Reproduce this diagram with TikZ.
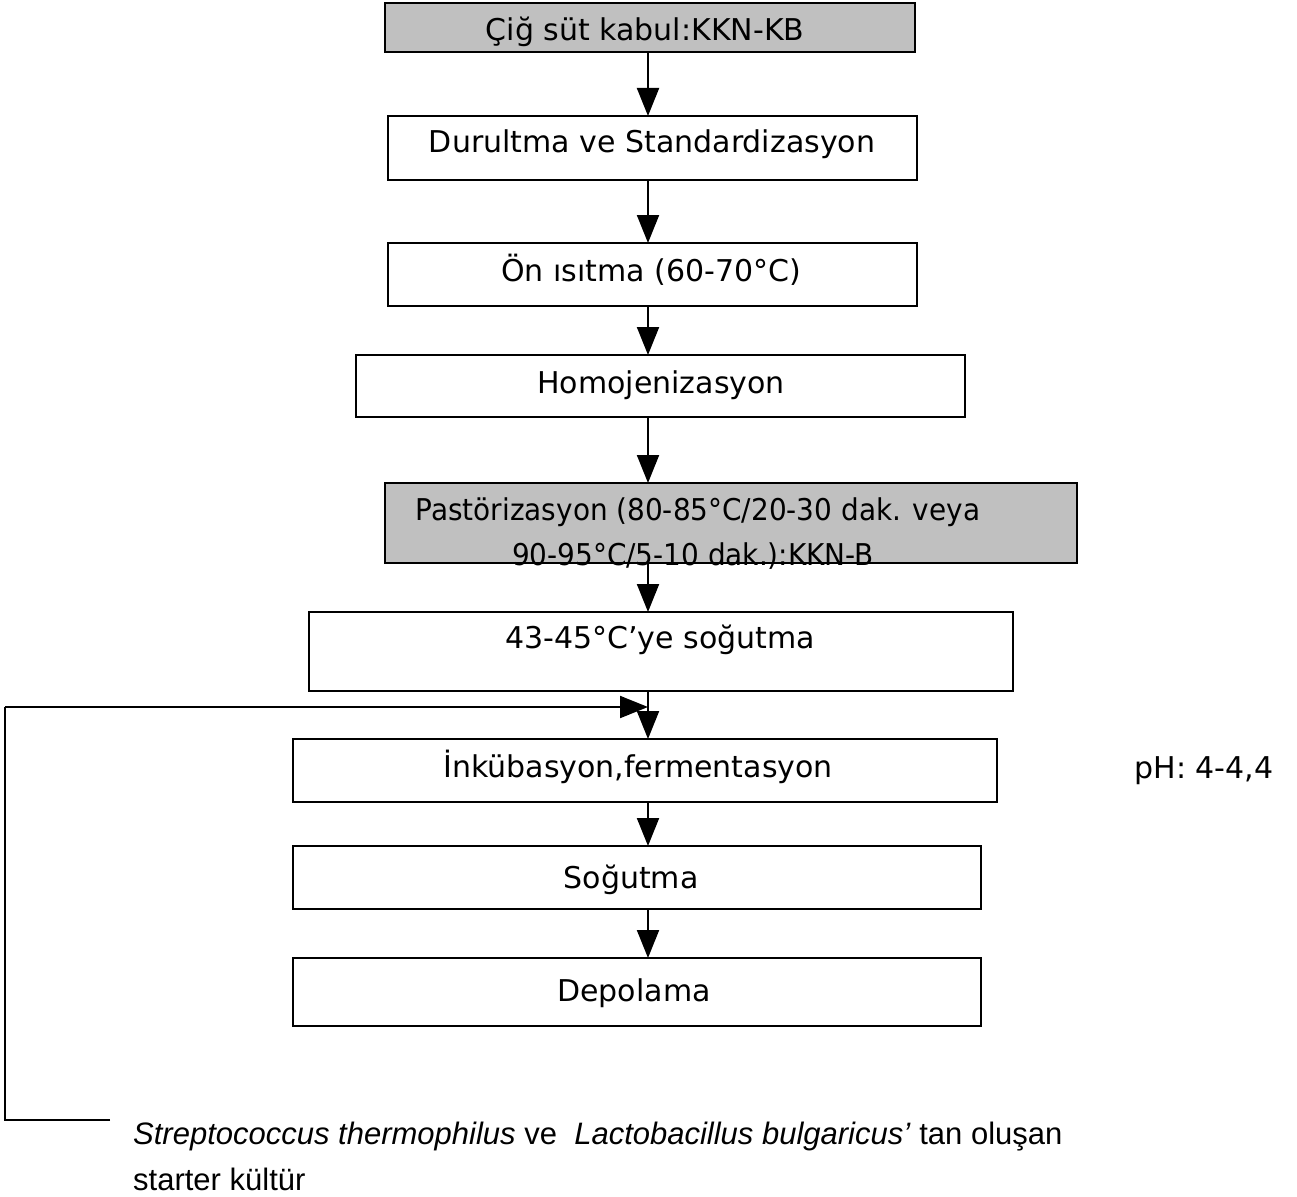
\documentclass[tikz,border=0pt]{standalone}
\usepackage{fontspec}
\setmainfont{DejaVu Sans}
\newfontfamily\notefont{Liberation Sans}
\usetikzlibrary{arrows.meta}
\definecolor{boxgray}{HTML}{C0C0C0}
\tikzset{
  x=1pt, y=-1pt,
  flowbox/.style={draw=black, line width=2pt},
  graybox/.style={flowbox, fill=boxgray},
  lbl/.style={anchor=base, inner sep=0pt, font=\fontsize{30}{36}\selectfont},
  note/.style={anchor=base west, inner sep=0pt, font=\notefont\fontsize{31}{36}\selectfont},
  flow/.style={line width=2pt, -{Triangle[width=22pt,length=28pt]}},
  plain/.style={line width=2pt}
}
\begin{document}
\begin{tikzpicture}
\useasboundingbox (0,0) rectangle (1297,1196);

% process boxes (left, top) rectangle (right, bottom)
\draw[graybox] (385,3) rectangle (915,52);
\coordinate (b1t) at (648,3); \coordinate (b1b) at (648,52);
\draw[flowbox] (388,116) rectangle (917,180);
\coordinate (b2t) at (648,116); \coordinate (b2b) at (648,180);
\draw[flowbox] (388,243) rectangle (917,306);
\coordinate (b3t) at (648,243); \coordinate (b3b) at (648,306);
\draw[flowbox] (356,355) rectangle (965,417);
\coordinate (b4t) at (648,355); \coordinate (b4b) at (648,417);
\draw[graybox] (385,483) rectangle (1077,563);
\coordinate (b5t) at (648,483); \coordinate (b5b) at (648,563);
\draw[flowbox] (309,612) rectangle (1013,691);
\coordinate (b6t) at (648,612); \coordinate (b6b) at (648,691);
\draw[flowbox] (293,739) rectangle (997,802);
\coordinate (b7t) at (648,739); \coordinate (b7b) at (648,802);
\draw[flowbox] (293,846) rectangle (981,909);
\coordinate (b8t) at (648,846); \coordinate (b8b) at (648,909);
\draw[flowbox] (293,958) rectangle (981,1026);
\coordinate (b9t) at (648,958);

% box texts
\node[lbl] (t1) at (645,41) {Çiğ süt kabul:KKN-KB};
\node[lbl] (t2) at (652,152) {Durultma ve Standardizasyon};
\node[lbl] (t3) at (651,281) {Ön ısıtma (60-70°C)};
\node[lbl] (t4) at (661,393) {Homojenizasyon};
\node[lbl] (t5a) at (698,520) {\scalebox{0.93}[1]{Pastörizasyon (80-85°C/20-30 dak. veya}};
\node[lbl] (t5b) at (693,565) {\scalebox{0.93}[1]{90-95°C/5-10 dak.):KKN-B}};
\node[lbl] (t6) at (660,648) {43-45°C’ye soğutma};
\node[lbl] (t7) at (638,777) {İnkübasyon,fermentasyon};
\node[lbl] (t8) at (631,888) {Soğutma};
\node[lbl] (t9) at (634,1001) {Depolama};
\node[lbl] (ph) at (1204,778) {pH: 4-4,4};

% process flow
\draw[flow] (b1b) -- (b2t);
\draw[flow] (b2b) -- (b3t);
\draw[flow] (b3b) -- (b4t);
\draw[flow] (b4b) -- (b5t);
\draw[flow] (b5b) -- (b6t);
\draw[flow] (b6b) -- (b7t);
\draw[flow] (b7b) -- (b8t);
\draw[flow] (b8b) -- (b9t);

% starter culture feed
\node[note] (st1) at (133,1144)
  {\textit{Streptococcus thermophilus} ve \ \textit{Lactobacillus bulgaricus’} tan oluşan};
\node[note] (st2) at (133,1190) {starter kültür};
\coordinate (fs) at (110,1120);
\coordinate (fc) at (5,1120);
\coordinate (fu) at (5,707);
\coordinate (fm) at (648,707);
\draw[plain] (fs) -- (fc) -- (fu);
\draw[flow] (fu) -- (fm);
\end{tikzpicture}
\end{document}
